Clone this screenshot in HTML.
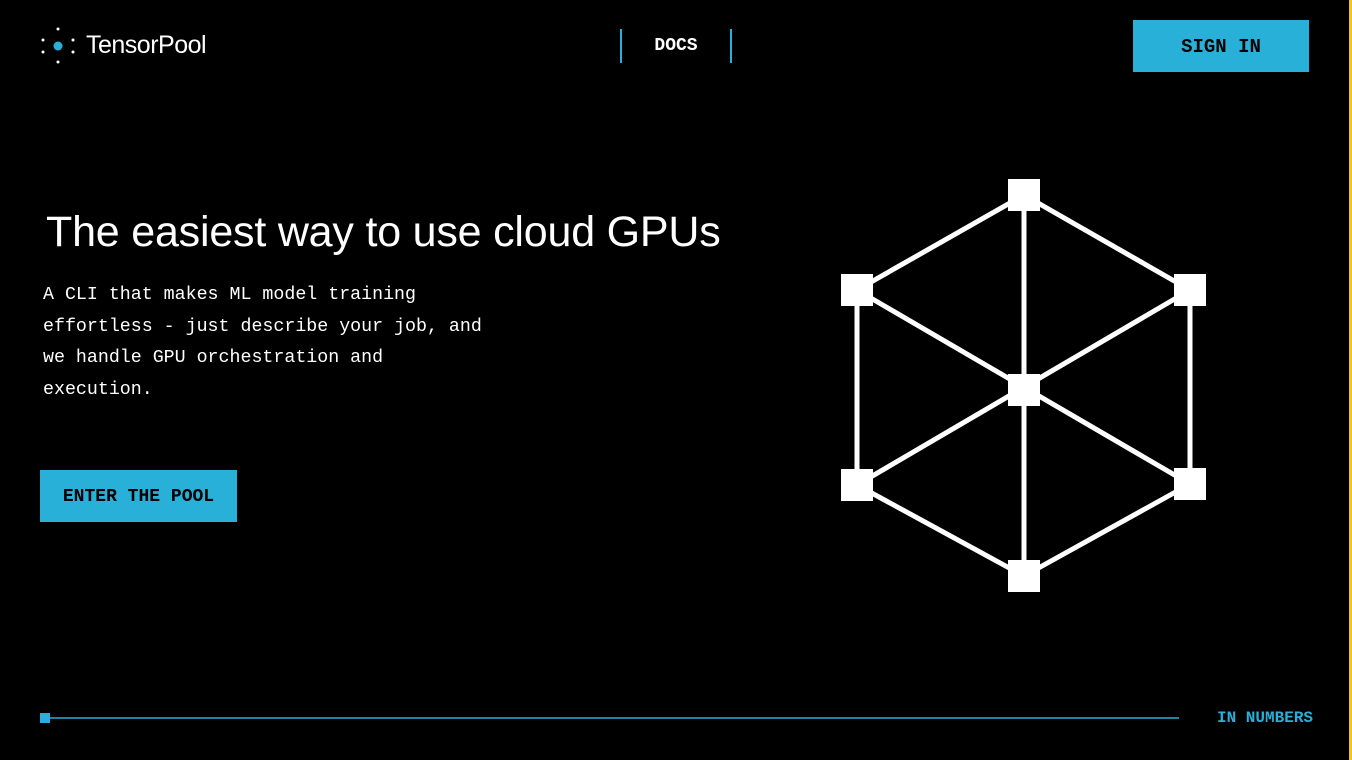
<!DOCTYPE html>
<html><head><meta charset="utf-8"><style>
html,body{margin:0;padding:0;background:#000;}
body{width:1352px;height:760px;position:relative;overflow:hidden;color:#fff;font-family:"Liberation Sans",sans-serif;}
.mono{font-family:"Liberation Mono","DejaVu Sans Mono",monospace;}
.abs{position:absolute;}
</style></head><body>
<div class="abs" style="right:0;top:0;width:3px;height:760px;background:#f5c518"></div>
<svg class="abs" style="left:38px;top:26px" width="40" height="40">
<circle cx="20" cy="20" r="4.5" fill="#29b0d8"/>
<g fill="#fff"><circle cx="20" cy="3" r="1.5"/><circle cx="20" cy="36" r="1.5"/><circle cx="5" cy="14" r="1.5"/><circle cx="5" cy="26" r="1.5"/><circle cx="35" cy="14" r="1.5"/><circle cx="35" cy="26" r="1.5"/></g>
</svg>
<div class="abs" style="left:86px;top:31px;font-size:25px;letter-spacing:-0.5px;font-weight:300">TensorPool</div>
<div class="abs" style="left:620px;top:29px;width:2px;height:34px;background:#29b0d8"></div>
<div class="abs" style="left:730px;top:29px;width:2px;height:34px;background:#29b0d8"></div>
<div class="abs mono" style="left:622px;top:36px;width:108px;text-align:center;font-size:18px;font-weight:bold">DOCS</div>
<div class="abs mono" style="left:1133px;top:20px;width:176px;height:52px;background:#29b0d8;color:#000;font-weight:bold;font-size:19px;line-height:54px;text-align:center">SIGN IN</div>
<div class="abs" style="left:46px;top:208px;font-size:43px;letter-spacing:-0.2px">The easiest way to use cloud GPUs</div>
<div class="abs mono" style="left:43px;top:280px;font-size:18.3px;line-height:31.5px;width:480px">A CLI that makes ML model training<br>effortless - just describe your job, and<br>we handle GPU orchestration and<br>execution.</div>
<div class="abs mono" style="left:40px;top:470px;width:197px;height:52px;background:#29b0d8;color:#000;font-weight:bold;font-size:18px;line-height:54px;text-align:center">ENTER THE POOL</div>
<svg class="abs" style="left:0;top:0" width="1352" height="760">
<g stroke="#fff" stroke-width="5">
<line x1="1024" y1="195" x2="857" y2="290"/><line x1="1024" y1="195" x2="1190" y2="290"/><line x1="1024" y1="195" x2="1024" y2="576"/>
<line x1="857" y1="290" x2="1190" y2="484"/><line x1="1190" y1="290" x2="857" y2="485"/>
<line x1="857" y1="290" x2="857" y2="485"/><line x1="1190" y1="290" x2="1190" y2="484"/>
<line x1="857" y1="485" x2="1024" y2="576"/><line x1="1190" y1="484" x2="1024" y2="576"/>
</g>
<g fill="#fff">
<rect x="1008" y="179" width="32" height="32"/><rect x="841" y="274" width="32" height="32"/><rect x="1174" y="274" width="32" height="32"/>
<rect x="1008" y="374" width="32" height="32"/><rect x="841" y="469" width="32" height="32"/><rect x="1174" y="468" width="32" height="32"/>
<rect x="1008" y="560" width="32" height="32"/>
</g>
<rect x="40" y="713" width="10" height="10" fill="#29b0d8"/>
<line x1="50" y1="718" x2="1179" y2="718" stroke="#29b0d8" stroke-width="1.5"/>
</svg>
<div class="abs mono" style="left:1217px;top:709px;font-size:16px;font-weight:bold;color:#29b0d8">IN NUMBERS</div>
</body></html>
